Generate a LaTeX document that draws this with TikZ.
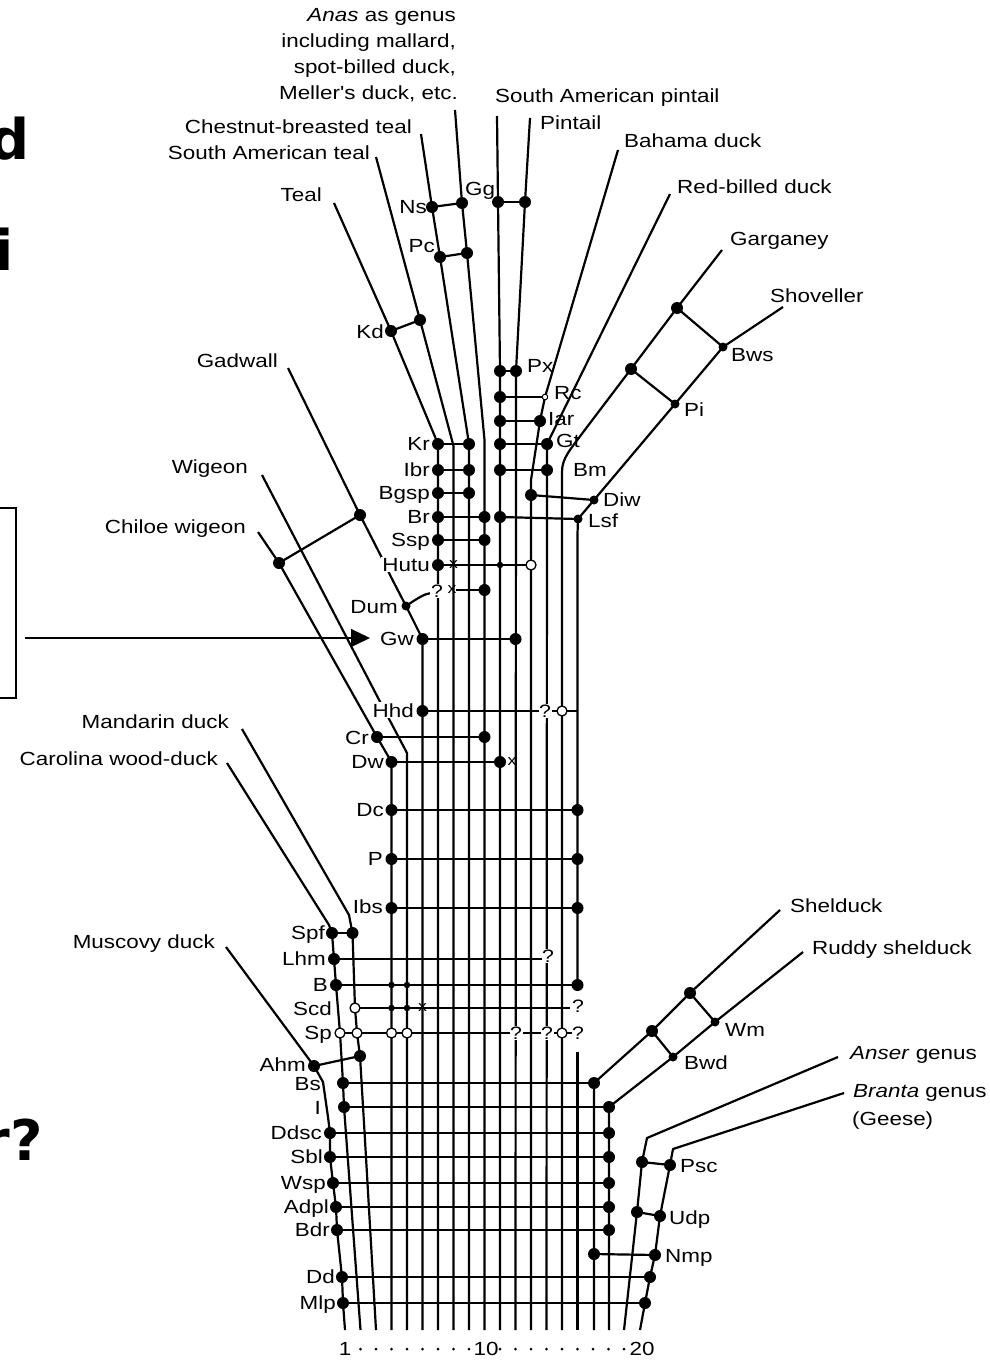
\documentclass[tikz,border=0pt]{standalone}
\usepackage{fontspec}
\setmainfont{Liberation Sans}
\newfontfamily\labfont[FakeStretch=1.18]{Liberation Sans}
\newfontfamily\fragfont{DejaVu Sans}
\usetikzlibrary{arrows.meta}
\tikzset{
 ln/.style={line width=2.2pt, line join=round},
 bdot/.style={circle, fill=black, inner sep=0pt, minimum size=12pt},
 mdot/.style={circle, fill=black, inner sep=0pt, minimum size=9pt},
 sdot/.style={circle, fill=black, inner sep=0pt, minimum size=6.5pt},
 odot/.style={circle, draw=black, fill=white, line width=1.3pt, inner sep=0pt, minimum size=10pt},
 tdot/.style={circle, draw=black, fill=white, line width=1pt, inner sep=0pt, minimum size=5.5pt},
 lab/.style={font=\labfont\fontsize{19}{22}\selectfont, inner sep=0pt, text=black},
 labw/.style={lab, fill=white, inner sep=1pt},
 qm/.style={font=\labfont\fontsize{18}{20}\selectfont, fill=white, inner sep=0.6pt},
 xm/.style={font=\labfont\fontsize{15}{16}\selectfont, inner sep=0pt},
 frag/.style={font=\fragfont\bfseries\fontsize{56}{60}\selectfont, anchor=base east, inner sep=0pt},
 axd/.style={circle, fill=black, inner sep=0pt, minimum size=3pt},
}
\begin{document}
\begin{tikzpicture}[x=1pt,y=-1pt]
\useasboundingbox (0,0) rectangle (990,1362);
\fill[white] (0,0) rectangle (990,1362);

% ---------- named points ----------
\coordinate (AnT) at (455,110);  \coordinate (NsR) at (462,203); \coordinate (PcR) at (467,253); \coordinate (c10) at (484.5,440);
\coordinate (ChT) at (421,134);  \coordinate (Ns) at (432,207);  \coordinate (Pc) at (440,257);  \coordinate (KrR) at (469,444);
\coordinate (StT) at (376,157);  \coordinate (KdR) at (420,320); \coordinate (c8) at (453.5,446);
\coordinate (TeT) at (334,203);  \coordinate (Kd) at (391,331);  \coordinate (KrL) at (438,444);
\coordinate (SpT) at (497,116);  \coordinate (Gg) at (498,202);  \coordinate (PxL) at (500,371);
\coordinate (PiT) at (530,118);  \coordinate (GgR) at (525,202); \coordinate (PxR) at (516,371);
\coordinate (BaT) at (618,150);  \coordinate (RcR) at (545,397); \coordinate (IarR) at (540,421); \coordinate (c13) at (531,480);
\coordinate (RbT) at (670,194);  \coordinate (GtR) at (547,444);
\coordinate (GaT) at (722,250);  \coordinate (Ga1) at (677,308); \coordinate (Ga2) at (631,369); \coordinate (Ga3) at (584,431); \coordinate (c15) at (562,472);
\coordinate (ShT) at (783,307);  \coordinate (Bws) at (723,347); \coordinate (Pi) at (675,404);  \coordinate (DiwR) at (594,500); \coordinate (Lsf) at (578,519);
\coordinate (GdT) at (288,368);  \coordinate (TrcR) at (360,515); \coordinate (Gd1) at (384,562); \coordinate (Gd2) at (391,577); \coordinate (Dum) at (406,606); \coordinate (Gw) at (422.5,639);
\coordinate (WiT) at (262,475);  \coordinate (Wi1) at (388,717); \coordinate (Wi2) at (407,753);
\coordinate (CwT) at (258,532);  \coordinate (Trc) at (279,563); \coordinate (Cr) at (377,737);  \coordinate (Dw) at (391.5,762);
\coordinate (MaT) at (242,729);  \coordinate (Ma1) at (349,915); \coordinate (SpfR) at (352.5,933); \coordinate (ScdO) at (355,1008); \coordinate (SpO2) at (357,1033); \coordinate (AhmR) at (360,1056); \coordinate (Ma2) at (365,1140);
\coordinate (CaT) at (227,763);  \coordinate (Ca1) at (329,925); \coordinate (Spf) at (332,933); \coordinate (Lhm) at (334,959); \coordinate (BL) at (336,985); \coordinate (SpO1) at (340,1033); \coordinate (BsL) at (343,1083); \coordinate (IL) at (344,1107);
\coordinate (MuT) at (226,947);  \coordinate (Ahm) at (314,1066); \coordinate (Mu1) at (323,1082); \coordinate (Mu2) at (328,1117); \coordinate (Ddsc) at (330,1133); \coordinate (Sbl) at (330,1157); \coordinate (Wsp) at (333,1183); \coordinate (Adpl) at (336,1207); \coordinate (Bdr) at (337,1230); \coordinate (DdL) at (342,1277); \coordinate (MlpL) at (343,1303);
\coordinate (SdT) at (780,910);  \coordinate (Sd1) at (690,993); \coordinate (Sd2) at (652,1031); \coordinate (BsR) at (594,1083);
\coordinate (RsT) at (803,952);  \coordinate (Wm) at (715,1022); \coordinate (Bwd) at (673,1057); \coordinate (IR) at (609,1107);
\coordinate (AsT) at (838,1057); \coordinate (As1) at (647,1138); \coordinate (PscL) at (642,1162); \coordinate (UdpL) at (637,1212);
\coordinate (BtT) at (844,1093); \coordinate (Bt1) at (673,1149); \coordinate (PscR) at (670,1165); \coordinate (UdpR) at (660,1216); \coordinate (NmpR) at (655,1255); \coordinate (DdR) at (650,1277); \coordinate (MlpR) at (645,1303);
\coordinate (arS) at (25,638); \coordinate (arE) at (370,638);

% ---------- lineages ----------
\draw[ln] (AnT)--(NsR)--(PcR)--(c10)--(484.5,1330);
\draw[ln] (ChT)--(Ns)--(Pc)--(KrR)--(469,1330);
\draw[ln] (StT)--(KdR)--(c8)--(453.5,1330);
\draw[ln] (TeT)--(Kd)--(KrL)--(438,1330);
\draw[ln] (SpT)--(Gg)--(PxL)--(500,1330);
\draw[ln] (PiT)--(GgR)--(PxR)--(515.5,1330);
\draw[ln] (BaT)--(RcR)--(IarR)--(c13)--(531,1330);
\draw[ln] (RbT)--(GtR)--(546.5,1330);
\draw[ln] (GaT)--(Ga1)--(Ga2)--(Ga3) .. controls (570,450) and (562,458) .. (c15) -- (562,1330);
\draw[ln] (ShT)--(Bws)--(Pi)--(DiwR)--(Lsf)--(577.5,534)--(577.5,990);
\draw[ln] (577.5,1052)--(577.5,1330);
\draw[ln] (GdT)--(TrcR)--(Gd1)--(Gd2)--(Dum)--(Gw)--(422.5,1330);
\draw[ln] (WiT)--(Wi1)--(Wi2)--(407,1330);
\draw[ln] (CwT)--(Trc)--(Cr)--(Dw)--(391.5,1330);
\draw[ln] (MaT)--(Ma1)--(SpfR)--(ScdO)--(SpO2)--(AhmR)--(Ma2)--(376,1330);
\draw[ln] (CaT)--(Ca1)--(Spf)--(Lhm)--(BL)--(SpO1)--(BsL)--(IL)--(360.5,1330);
\draw[ln] (MuT)--(Ahm)--(Mu1)--(Mu2)--(Ddsc)--(Sbl)--(Wsp)--(Adpl)--(Bdr)--(DdL)--(MlpL)--(345,1330);
\draw[ln] (SdT)--(Sd1)--(Sd2)--(BsR)--(594,1330);
\draw[ln] (RsT)--(Wm)--(Bwd)--(IR)--(609,1330);
\draw[ln] (AsT)--(As1)--(PscL)--(UdpL)--(624,1330);
\draw[ln] (BtT)--(Bt1)--(PscR)--(UdpR)--(NmpR)--(DdR)--(MlpR)--(640,1330);

% ---------- rungs ----------
\draw[ln] (Ns)--(NsR); \draw[ln] (Gg)--(GgR); \draw[ln] (Pc)--(PcR); \draw[ln] (Kd)--(KdR);
\draw[ln] (PxL)--(PxR);
\draw[ln] (500,397)--(RcR); \draw[ln] (500,421)--(IarR);
\draw[ln] (500,444)--(GtR); \draw[ln] (500,470)--(547,470);
\draw[ln] (531,495)--(DiwR);
\draw[ln] (KrL)--(KrR); \draw[ln] (438,470)--(469,470); \draw[ln] (438,493)--(469,493);
\draw[ln] (438,517)--(484.5,517); \draw[ln] (500,517)--(Lsf);
\draw[ln] (438,540)--(484.5,540);
\draw[ln] (438,565)--(531,565);
\draw[ln] (Dum) .. controls (418,598) and (424,594) .. (431,593);
\draw[ln] (456,590)--(484.5,590);
\draw[ln] (Gw)--(515.5,639);
\draw[ln] (422.5,711)--(577.5,711);
\draw[ln] (Cr)--(484.5,737);
\draw[ln] (Dw)--(500,762);
\draw[ln] (391.5,810)--(577.5,810);
\draw[ln] (391.5,859)--(577.5,859);
\draw[ln] (391.5,908)--(577.5,908);
\draw[ln] (Spf)--(SpfR);
\draw[ln] (Lhm)--(542,959);
\draw[ln] (BL)--(577.5,985);
\draw[ln] (ScdO)--(570,1008);
\draw[ln] (SpO1)--(579,1033);
\draw[ln] (Ahm)--(AhmR);
\draw[ln] (BsL)--(BsR);
\draw[ln] (IL)--(IR);
\draw[ln] (Ddsc)--(609,1133);
\draw[ln] (Sbl)--(609,1157);
\draw[ln] (Wsp)--(609,1183);
\draw[ln] (Adpl)--(609,1207);
\draw[ln] (Bdr)--(609,1230);
\draw[ln] (594,1254)--(NmpR);
\draw[ln] (DdL)--(DdR);
\draw[ln] (MlpL)--(MlpR);
\draw[ln] (PscL)--(PscR);
\draw[ln] (UdpL)--(UdpR);
\draw[ln] (Sd1)--(Wm); \draw[ln] (Sd2)--(Bwd);
\draw[ln] (Ga1)--(Bws); \draw[ln] (Ga2)--(Pi);
\draw[ln] (Trc)--(TrcR);

% ---------- question marks and crosses ----------
\node[qm] (q1) at (437,591) {?};
\node[qm] (q2) at (545,711) {?};
\node[qm] (q3) at (548,956) {?};
\node[qm] (q4) at (578,1006) {?};
\node[qm] (q5) at (516,1033) {?};
\node[qm] (q6) at (547,1033) {?};
\node[qm] (q7) at (578,1033) {?};
\node[xm] (x1) at (453.5,565) {x};
\node[xm] (x2) at (452,590) {x};
\node[xm] (x3) at (422.5,1008) {x};
\node[xm] (x4) at (512,762) {x};

% ---------- dots ----------
\foreach \p [count=\k] in {Ns,NsR,Pc,PcR,Gg,GgR,Kd,KdR,PxL,PxR,IarR,GtR,KrL,KrR,Gw,Cr,Dw,Spf,SpfR,Lhm,BL,Ahm,AhmR,BsL,BsR,IL,IR,Ddsc,Sbl,Wsp,Adpl,Bdr,NmpR,DdL,DdR,MlpL,MlpR,PscL,PscR,UdpL,UdpR,Trc,TrcR,Ga1,Ga2,Sd1,Sd2}
  \node[bdot] (bd\k) at (\p) {};
\foreach \x/\y [count=\k] in {500/397,500/421,500/444,500/470,547/470,531/495,438/470,469/470,438/493,469/493,438/517,484.5/517,500/517,438/540,484.5/540,438/565,484.5/590,515.5/639,422.5/711,484.5/737,500/762,391.5/810,577.5/810,391.5/859,577.5/859,391.5/908,577.5/908,577.5/985,609/1133,609/1157,609/1183,609/1207,609/1230,594/1254}
  \node[bdot] (be\k) at (\x,\y) {};
\foreach \p [count=\k] in {Bws,Pi,DiwR,Lsf,Wm,Bwd,Dum}
  \node[mdot] (md\k) at (\p) {};
\foreach \x/\y [count=\k] in {391.5/985,407/985,391.5/1008,407/1008,500/565}
  \node[sdot] (sd\k) at (\x,\y) {};
\foreach \x/\y [count=\k] in {355/1008,340/1033,357/1033,391.5/1033,407/1033,562/1033,531/565,562/711}
  \node[odot] (od\k) at (\x,\y) {};
\node[tdot] (rcend) at (RcR) {};

% ---------- lineage labels ----------
\node[lab, anchor=base east] (tA1) at (456,22) {\textit{Anas} as genus};
\node[lab, anchor=base east] (tA2) at (456,48) {including mallard,};
\node[lab, anchor=base east] (tA3) at (456,74) {spot-billed duck,};
\node[lab, anchor=base east] (tA4) at (458,100) {Meller's duck, etc.};
\node[lab, anchor=base west] (tSAp) at (495,103) {South American pintail};
\node[lab, anchor=base west] (tPin) at (540,129) {Pintail};
\node[lab, anchor=base east] (tCbt) at (412,133) {Chestnut-breasted teal};
\node[lab, anchor=base east] (tSAt) at (370,160) {South American teal};
\node[lab, anchor=base west] (tBah) at (624,147) {Bahama duck};
\node[lab, anchor=base west] (tRbd) at (677,193) {Red-billed duck};
\node[lab, anchor=base east] (tTea) at (322,201) {Teal};
\node[lab, anchor=base west] (tGar) at (730,245) {Garganey};
\node[lab, anchor=base west] (tSho) at (770,302) {Shoveller};
\node[lab, anchor=base east] (tGad) at (278,367) {Gadwall};
\node[lab, anchor=base east] (tWig) at (248,473) {Wigeon};
\node[lab, anchor=base east] (tChw) at (246,533) {Chiloe wigeon};
\node[lab, anchor=base east] (tMan) at (229,728) {Mandarin duck};
\node[lab, anchor=base east] (tCar) at (218,765) {Carolina wood-duck};
\node[lab, anchor=base east] (tMus) at (215,948) {Muscovy duck};
\node[lab, anchor=base west] (tShe) at (790,912) {Shelduck};
\node[lab, anchor=base west] (tRud) at (812,954) {Ruddy shelduck};
\node[lab, anchor=base west] (tAns) at (850,1059) {\textit{Anser} genus};
\node[lab, anchor=base west] (tBra) at (853,1097) {\textit{Branta} genus};
\node[lab, anchor=base west] (tGee) at (852,1125) {(Geese)};

% ---------- node labels ----------
\node[lab, anchor=base east] (lNs) at (427,213) {Ns};
\node[lab, anchor=base west] (lGg) at (465,195) {Gg};
\node[lab, anchor=base east] (lPc) at (435,252) {Pc};
\node[lab, anchor=base east] (lKd) at (384,338) {Kd};
\node[lab, anchor=base west] (lPx) at (527,372) {Px};
\node[lab, anchor=base west] (lRc) at (554,399) {Rc};
\node[lab, anchor=base west] (lIar) at (548,425) {Iar};
\node[lab, anchor=base west] (lGt) at (556,447) {Gt};
\node[lab, anchor=base west] (lBm) at (573,476) {Bm};
\node[lab, anchor=base west] (lDiw) at (603,506) {Diw};
\node[lab, anchor=base west] (lLsf) at (588,527) {Lsf};
\node[lab, anchor=base west] (lBws) at (731,361) {Bws};
\node[lab, anchor=base west] (lPi) at (684,416) {Pi};
\node[lab, anchor=base east] (lKr) at (430,450) {Kr};
\node[lab, anchor=base east] (lIbr) at (430,476) {Ibr};
\node[lab, anchor=base east] (lBgsp) at (430,499) {Bgsp};
\node[lab, anchor=base east] (lBr) at (430,523) {Br};
\node[lab, anchor=base east] (lSsp) at (430,546) {Ssp};
\node[labw, anchor=base east] (lHutu) at (431,571) {Hutu};
\node[lab, anchor=base east] (lDum) at (398,613) {Dum};
\node[lab, anchor=base east] (lGw) at (414,645) {Gw};
\node[labw, anchor=base east] (lHhd) at (415,717) {Hhd};
\node[lab, anchor=base east] (lCr) at (369,744) {Cr};
\node[lab, anchor=base east] (lDw) at (384,768) {Dw};
\node[lab, anchor=base east] (lDc) at (384,816) {Dc};
\node[lab, anchor=base east] (lP) at (383,865) {P};
\node[lab, anchor=base east] (lIbs) at (383,913) {Ibs};
\node[lab, anchor=base east] (lSpf) at (325,939) {Spf};
\node[lab, anchor=base east] (lLhm) at (326,965) {Lhm};
\node[lab, anchor=base east] (lB) at (328,991) {B};
\node[lab, anchor=base east] (lScd) at (332,1015) {Scd};
\node[lab, anchor=base east] (lSp) at (332,1039) {Sp};
\node[lab, anchor=base east] (lAhm) at (306,1071) {Ahm};
\node[lab, anchor=base east] (lBs) at (321,1090) {Bs};
\node[lab, anchor=base east] (lI) at (321,1114) {I};
\node[lab, anchor=base east] (lDdsc) at (322,1139) {Ddsc};
\node[lab, anchor=base east] (lSbl) at (323,1163) {Sbl};
\node[lab, anchor=base east] (lWsp) at (326,1189) {Wsp};
\node[lab, anchor=base east] (lAdpl) at (329,1213) {Adpl};
\node[lab, anchor=base east] (lBdr) at (330,1236) {Bdr};
\node[lab, anchor=base east] (lDd) at (335,1283) {Dd};
\node[lab, anchor=base east] (lMlp) at (336,1309) {Mlp};
\node[lab, anchor=base west] (lWm) at (725,1036) {Wm};
\node[lab, anchor=base west] (lBwd) at (684,1069) {Bwd};
\node[lab, anchor=base west] (lPsc) at (680,1172) {Psc};
\node[lab, anchor=base west] (lUdp) at (669,1224) {Udp};
\node[lab, anchor=base west] (lNmp) at (665,1262) {Nmp};

% ---------- axis ----------
\node[lab, anchor=base] (ax1) at (345,1355) {1};
\node[lab, anchor=base] (ax10) at (486,1355) {10};
\node[lab, anchor=base] (ax20) at (642,1355) {20};
\foreach \i [count=\k] in {2,...,9,11,12,...,18}
  \node[axd] (ad\k) at ({345+15.5*(\i-1)},1349) {};
\node[axd] (ad19) at (624,1349) {};

% ---------- slide fragments ----------
\node[frag] (f1) at (30,160) {d};
\node[frag] (f2) at (14,270) {i};
\node[frag] (f3) at (43,1160) {r?};
\draw[line width=1.3pt] (-20,508) rectangle (16,698);
\draw[line width=1.3pt,-{Triangle[length=19pt,width=18pt]}] (arS) -- (arE);
\end{tikzpicture}
\end{document}
